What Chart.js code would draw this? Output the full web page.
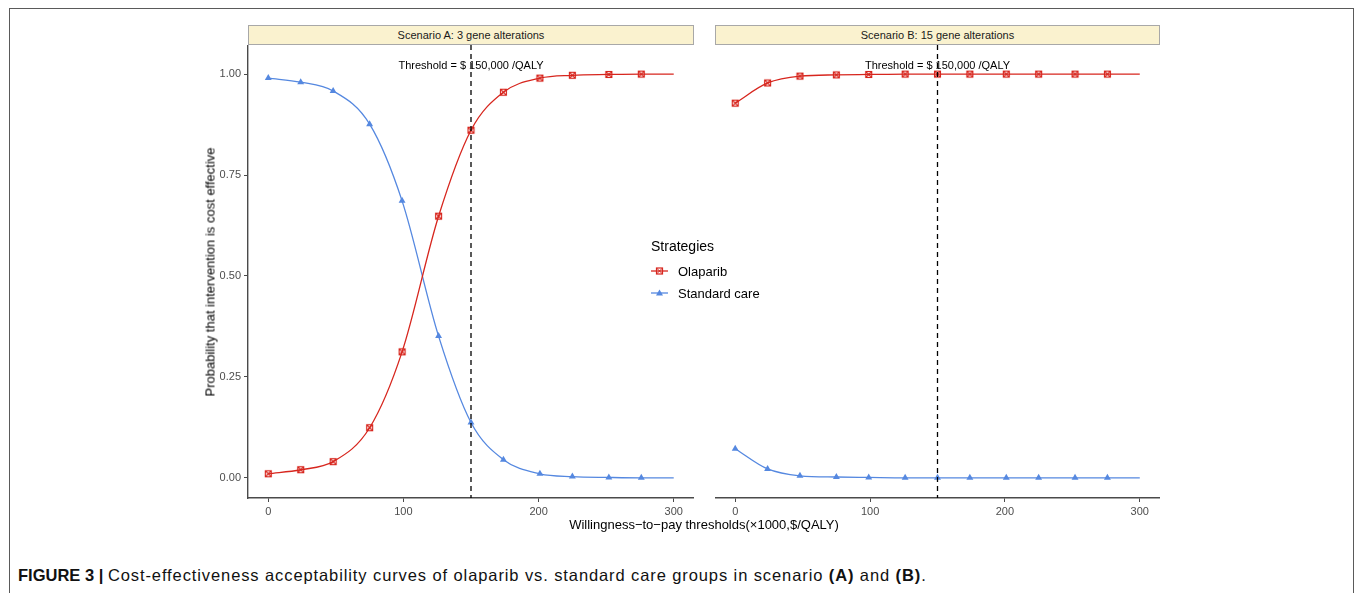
<!DOCTYPE html>
<html>
<head>
<meta charset="utf-8">
<script src="https://cdn.jsdelivr.net/npm/chart.js@4/dist/chart.umd.min.js"></script>
<style>
  body { margin: 0; background: #fff; font-family: "Liberation Sans", Arial, sans-serif; }
  #page { position: relative; width: 1355px; height: 593px; overflow: hidden; }
  .frame { position: absolute; left: 9px; top: 8px; width: 1345px; height: 600px; border: 1.5px solid #5a5a5a; box-sizing: border-box; }
  canvas { position: absolute; }
  .strip { position: absolute; top: 25px; height: 20px; background: #faf2cf; border: 1px solid #a8a8a8; box-sizing: border-box;
           font-size: 11px; line-height: 18px; text-align: center; color: #1a1a1a; }
  .ytitle { position: absolute; left: 210px; top: 272px; transform: translate(-50%, -50%) rotate(-90deg); white-space: nowrap; font-size: 13px; color: #000; }
  .xtitle { position: absolute; left: 704px; top: 524px; transform: translate(-50%, -50%); white-space: nowrap; font-size: 13px; color: #000; }
  .legend { position: absolute; left: 651px; top: 238px; font-size: 13px; color: #000; }
  .legend .title { font-size: 14px; margin-bottom: 6px; }
  .legend .row { height: 22px; display: flex; align-items: center; }
  .legend svg { margin-right: 10px; }
  .caption { position: absolute; left: 18px; top: 566px; font-size: 16.5px; color: #111; white-space: nowrap; }
  .caption .txt { letter-spacing: 0.9px; }
</style>
</head>
<body>
<div id="page">
  <div class="frame"></div>
  <div class="strip" style="left:248px;width:446px;">Scenario A: 3 gene alterations</div>
  <div class="strip" style="left:715px;width:445px;">Scenario B: 15 gene alterations</div>
  <canvas id="panelA" width="486" height="475" style="left:208px;top:45px;"></canvas>
  <canvas id="panelB" width="445" height="475" style="left:715px;top:45px;"></canvas>
  <div class="ytitle">Probability that intervention is cost effective</div>
  <div class="xtitle">Willingness−to−pay thresholds(×1000,$/QALY)</div>
  <div class="legend">
    <div class="title">Strategies</div>
    <div class="row"><svg width="17" height="10"><line x1="0" y1="5" x2="17" y2="5" stroke="#d7261e" stroke-width="1.3"/><rect x="5.5" y="2" width="6" height="6" fill="none" stroke="#d7261e" stroke-width="1.2"/><line x1="5.5" y1="2" x2="11.5" y2="8" stroke="#d7261e"/><line x1="11.5" y1="2" x2="5.5" y2="8" stroke="#d7261e"/></svg>Olaparib</div>
    <div class="row"><svg width="17" height="10"><line x1="0" y1="5" x2="17" y2="5" stroke="#5588e0" stroke-width="1.3"/><polygon points="8.5,1.5 12,7.5 5,7.5" fill="#5588e0"/></svg>Standard care</div>
  </div>
  <div class="caption"><b>FIGURE 3 |</b> <span class="txt">Cost-effectiveness acceptability curves of olaparib vs. standard care groups in scenario <b>(A)</b> and <b>(B)</b>.</span></div>
</div>
<script>
// willingness-to-pay (x1000 $/QALY); last entry is the curve end, no marker there
const wtp = [0, 24, 48, 75, 99, 126, 150, 174, 201, 225, 252, 276, 300];
const olaparibA = [0.010, 0.020, 0.040, 0.124, 0.312, 0.648, 0.861, 0.955, 0.990, 0.997, 0.999, 1.000, 1.000];
const standardA = [0.990, 0.980, 0.958, 0.876, 0.686, 0.351, 0.137, 0.045, 0.010, 0.003, 0.001, 0.000, 0.000];
const olaparibB = [0.928, 0.978, 0.995, 0.998, 0.999, 1.000, 1.000, 1.000, 1.000, 1.000, 1.000, 1.000, 1.000];
const standardB = [0.072, 0.022, 0.005, 0.002, 0.001, 0.000, 0.000, 0.000, 0.000, 0.000, 0.000, 0.000, 0.000];
const xTicks = [0, 100, 200, 300];
const yTicks = [0, 0.25, 0.5, 0.75, 1];
const threshold = 150;
const thresholdLabel = 'Threshold = $ 150,000 /QALY';

const RED = '#d7261e', BLUE = '#5588e0', AXIS = '#4a4a4a';

// square with an x inside, like ggplot shape 7
function squareCross() {
    const c = document.createElement('canvas');
    c.width = 9; c.height = 9;
    const g = c.getContext('2d');
    g.strokeStyle = RED; g.lineWidth = 1.1;
    g.strokeRect(1.5, 1.5, 6, 6);
    g.beginPath();
    g.moveTo(1.5, 1.5); g.lineTo(7.5, 7.5);
    g.moveTo(7.5, 1.5); g.lineTo(1.5, 7.5);
    g.stroke();
    return c;
}
const sqMarker = squareCross();

const thresholdPlugin = {
    id: 'threshold',
    afterDatasetsDraw(chart) {
        const { ctx, chartArea, scales } = chart;
        const x = scales.x.getPixelForValue(threshold);
        ctx.save();
        ctx.fillStyle = '#000';
        ctx.font = '11px "Liberation Sans", Arial, sans-serif';
        ctx.textAlign = 'center';
        ctx.textBaseline = 'middle';
        ctx.fillText(thresholdLabel, x, scales.y.getPixelForValue(1.02));
        ctx.strokeStyle = '#000';
        ctx.lineWidth = 1.3;
        ctx.setLineDash([5, 4]);
        ctx.beginPath();
        ctx.moveTo(x, chartArea.top);
        ctx.lineTo(x, chartArea.bottom);
        ctx.stroke();
        ctx.restore();
    }
};

function series(values, color, style, radius) {
    return {
        data: wtp.map((x, i) => ({ x: x, y: values[i] })),
        borderColor: color,
        backgroundColor: color,
        borderWidth: 1.3,
        pointStyle: style,
        pointRadius: ctx => ctx.dataIndex === wtp.length - 1 ? 0 : radius,
        pointBorderWidth: 0,
        cubicInterpolationMode: 'monotone',
        clip: false
    };
}

function makePanel(id, olap, std, showY) {
    new Chart(document.getElementById(id), {
        type: 'line',
        data: {
            datasets: [
                series(olap, RED, sqMarker, 4),
                series(std, BLUE, 'triangle', 4)
            ]
        },
        options: {
            responsive: false,
            animation: false,
            layout: { padding: 0, autoPadding: false },
            plugins: { legend: { display: false }, tooltip: { enabled: false } },
            scales: {
                x: {
                    type: 'linear', min: -15, max: 315,
                    afterBuildTicks: s => { s.ticks = xTicks.map(v => ({ value: v })); },
                    afterFit: s => { s.height = 22; s.paddingLeft = 0; s.paddingRight = 0; },
                    border: { color: AXIS, width: 1.4 },
                    grid: { drawOnChartArea: false, tickLength: 4, color: AXIS },
                    ticks: { color: '#4d4d4d', padding: 3, maxRotation: 0, font: { size: 11, family: '"Liberation Sans", Arial' } }
                },
                y: {
                    display: showY,
                    min: -0.05, max: 1.072,
                    afterBuildTicks: s => { s.ticks = yTicks.map(v => ({ value: v })); },
                    afterFit: s => { s.width = showY ? 40 : 0; s.paddingTop = 0; s.paddingBottom = 0; },
                    border: { color: AXIS, width: 1.4 },
                    grid: { drawOnChartArea: false, tickLength: 4, color: AXIS },
                    ticks: { color: '#4d4d4d', padding: 3, font: { size: 11, family: '"Liberation Sans", Arial' },
                             callback: v => v.toFixed(2) }
                }
            }
        },
        plugins: [thresholdPlugin]
    });
}

makePanel('panelA', olaparibA, standardA, true);
makePanel('panelB', olaparibB, standardB, false);
</script>
</body>
</html>
